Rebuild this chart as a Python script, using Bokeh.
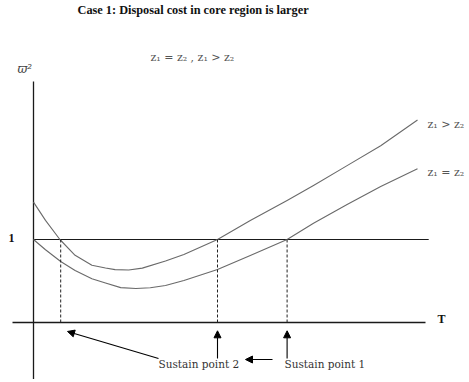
from bokeh.plotting import figure
from bokeh.models import Range1d, Arrow, NormalHead
from bokeh.core.properties import value
from bokeh.embed import file_html
from bokeh.resources import INLINE

# ---- data (T on x, omega^2 on y) ----
t_upper = [0.0, 0.15, 0.33, 0.52, 0.73, 0.9, 1.02, 1.19, 1.36, 1.65, 1.88, 2.3, 2.71, 3.17, 3.5, 3.92, 4.34, 4.8]
w_upper = [1.45, 1.23, 1.0, 0.81, 0.69, 0.657, 0.637, 0.633, 0.655, 0.74, 0.82, 1.0, 1.23, 1.47, 1.65, 1.89, 2.13, 2.44]

t_lower = [0.0, 0.15, 0.34, 0.52, 0.73, 0.9, 1.09, 1.28, 1.46, 1.65, 1.88, 2.3, 2.71, 3.17, 3.5, 3.92, 4.34, 4.8]
w_lower = [1.0, 0.876, 0.735, 0.627, 0.527, 0.475, 0.42, 0.41, 0.418, 0.446, 0.506, 0.639, 0.807, 1.0, 1.196, 1.422, 1.639, 1.852]

sustain_T = [0.34, 2.3, 3.17]
level_one = 1.0

title = "Case 1: Disposal cost in core region is larger"
subtitle = "z\u2081 = z\u2082 , z\u2081 > z\u2082"
curve_labels = ["z\u2081 > z\u2082", "z\u2081 = z\u2082"]
point_labels = ["Sustain point 2", "Sustain point 1"]

p = figure(width=469, height=382, output_backend="svg", toolbar_location=None,
           x_range=Range1d(-0.4125, 5.45), y_range=Range1d(-0.7229, 3.8795),
           x_axis_type=None, y_axis_type=None, min_border=0)
p.outline_line_color = None
p.grid.visible = False
p.background_fill_color = "white"
p.border_fill_color = "white"

axis_col = "#1a1a1a"
# axes
p.line([-0.2625, 4.9], [0, 0], line_color=axis_col, line_width=1.3)
p.line([0, 0], [2.904, -0.68], line_color=axis_col, line_width=1.3)
# level 1 line
p.line([0, 4.94], [level_one, level_one], line_color=axis_col, line_width=1.2)

# curves
p.line(t_upper, w_upper, line_color="#6a6a6a", line_width=1.1, line_join="round")
p.line(t_lower, w_lower, line_color="#6a6a6a", line_width=1.1, line_join="round")

# dashed verticals
for t in sustain_T:
    p.line([t, t], [level_one, 0], line_color="#222222", line_width=1, line_dash="3 2")

# arrows
def arr(x0, y0, x1, y1):
    p.add_layout(Arrow(end=NormalHead(size=7, fill_color="black", line_color="black"),
                       x_start=x0, y_start=y0, x_end=x1, y_end=y1,
                       line_color="black", line_width=1.1))

arr(1.5625, -0.434, sustain_T[0] + 0.085, -0.108)
arr(sustain_T[1], -0.434, sustain_T[1], -0.1)
arr(sustain_T[2], -0.434, sustain_T[2], -0.1)
arr(2.9875, -0.446, 2.65, -0.446)

serif = value("Liberation Serif")
dserif = value("DejaVu Serif")

# title
p.text(x=[0.55], y=[3.771], text=[title], text_font=serif, text_font_size="12.3px",
       text_font_style="bold", text_baseline="middle", text_align="left", text_color="#111111")
# subtitle
p.text(x=[1.4625], y=[3.193], text=[subtitle], text_font=dserif, text_font_size="11px",
       text_baseline="middle", text_align="left", text_color="#555555")
# y symbol
p.text(x=[-0.2], y=[3.06], text=["\u03d6\u00b2"], text_font=dserif, text_font_size="12px",
       text_font_style="italic", text_baseline="middle", text_align="left", text_color="#444444")
# "1" label
p.text(x=[-0.2375], y=[1.024], text=["1"], text_font=serif, text_font_size="12px",
       text_font_style="bold", text_baseline="middle", text_align="right", text_color="#111111")
# "T" label
p.text(x=[5.05], y=[0.048], text=["T"], text_font=serif, text_font_size="12px",
       text_font_style="bold", text_baseline="middle", text_align="left", text_color="#111111")
# curve labels
p.text(x=[4.925, 4.925], y=[2.386, 1.807], text=curve_labels, text_font=dserif, text_font_size="11px",
       text_baseline="middle", text_align="left", text_color="#555555")
# sustain point labels
p.text(x=[1.5625, 3.1375], y=[-0.494, -0.494], text=point_labels, text_font=dserif, text_font_size="10.5px",
       text_baseline="middle", text_align="left", text_color="#333333")

open("out.html", "w").write(file_html(p, INLINE))
